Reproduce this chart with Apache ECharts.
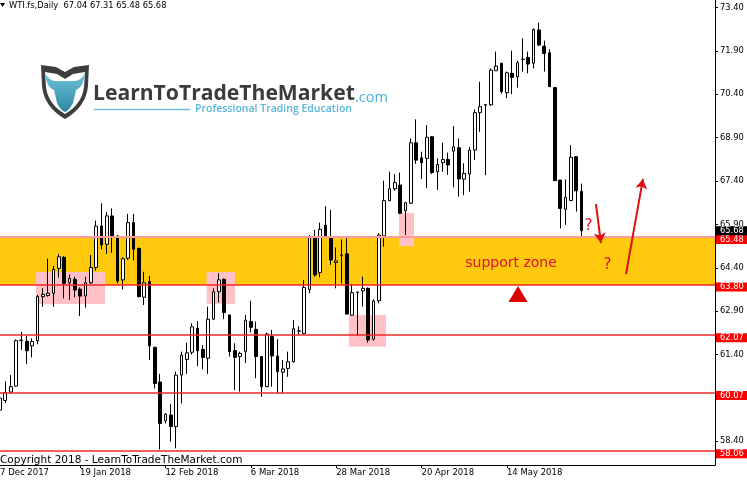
<!DOCTYPE html>
<html><head><meta charset="utf-8">
<script src="https://cdn.jsdelivr.net/npm/echarts@6/dist/echarts.min.js"></script>
<style>html,body{margin:0;padding:0;background:#fff}#c{width:747px;height:486px}</style>
</head><body><div id="c"></div>
<script>
// ---- data ----
const openP  = [59.48,59.81,60.10,60.31,61.88,61.86,61.70,61.87,63.40,63.44,63.52,64.38,64.76,63.88,64.00,63.66,63.42,63.88,64.41,65.84,65.21,66.19,65.50,63.98,64.73,65.97,65.07,63.38,63.92,61.65,60.45,59.11,59.31,58.91,60.69,61.23,61.48,62.31,61.58,61.27,62.62,63.57,64.00,62.77,61.54,61.33,61.50,62.54,62.27,61.33,60.29,62.02,61.35,60.79,60.92,61.15,62.22,62.13,63.65,65.47,64.23,65.87,65.47,64.58,64.83,64.88,62.76,63.55,63.60,63.69,61.93,63.26,65.50,66.72,67.13,67.26,66.37,66.63,68.72,68.20,68.18,68.93,67.72,68.03,68.14,68.43,68.55,67.46,67.64,68.47,69.76,70.02,70.03,71.21,71.47,70.45,71.12,71.00,71.60,71.67,71.47,72.62,72.06,71.83,70.63,67.43,66.42,66.72,68.24,67.04];
const closeP = [59.89,60.08,60.29,61.88,61.90,61.53,61.85,63.41,63.48,63.52,64.34,64.78,63.86,64.03,63.63,63.42,63.88,64.41,65.84,65.19,66.19,65.47,63.94,64.71,65.96,65.04,63.40,63.88,61.70,60.40,59.02,59.34,58.91,60.69,61.38,61.46,62.36,61.53,61.30,62.62,63.57,63.98,62.85,61.50,61.30,61.44,62.59,62.34,61.33,60.29,62.11,61.35,60.81,60.90,61.15,62.29,62.21,63.72,65.47,64.15,65.73,65.47,64.67,64.64,64.84,62.80,63.54,63.56,63.69,61.90,63.25,65.53,66.72,67.13,67.34,66.28,66.65,68.72,68.12,68.03,68.91,67.69,67.97,68.14,67.95,68.58,67.47,67.66,68.47,69.76,69.97,70.04,71.23,71.37,70.49,71.14,70.98,71.49,71.61,71.44,72.64,72.10,71.81,70.66,67.41,66.45,66.83,68.22,67.06,65.68];
const lowP   = [59.37,59.73,60.06,60.29,61.56,61.07,61.30,61.76,63.05,63.40,63.05,64.06,63.34,63.29,63.38,62.73,63.02,63.84,64.30,65.04,64.88,64.92,63.86,63.65,64.67,64.65,63.38,63.11,61.21,60.23,58.12,59.02,58.39,58.16,59.71,60.73,61.40,61.00,60.89,60.73,62.59,63.20,62.62,61.33,60.17,60.12,61.10,62.16,60.58,59.94,60.27,60.29,60.06,60.06,60.63,61.12,62.07,62.11,63.52,64.09,64.07,65.45,64.50,63.69,63.86,62.78,62.74,62.04,63.06,61.81,61.88,63.17,65.13,66.70,67.06,66.26,65.53,66.60,67.99,67.46,67.15,67.64,67.09,67.72,67.61,67.18,66.86,66.91,67.03,68.12,69.10,67.60,69.99,71.21,70.41,70.26,70.40,70.63,71.18,71.12,71.29,72.06,71.18,70.66,67.41,65.76,65.88,66.72,66.34,65.48];
const highP  = [59.94,60.47,60.69,61.92,62.18,62.04,61.96,63.46,63.69,64.72,64.46,64.88,64.80,64.17,64.09,63.72,64.09,64.84,66.03,66.63,66.32,66.45,65.52,64.76,66.26,66.26,65.09,64.26,64.12,61.67,60.73,59.37,59.69,60.81,61.50,61.81,62.48,62.55,61.73,63.05,63.69,64.21,64.03,62.77,61.79,61.50,62.77,63.26,62.54,61.35,62.16,62.25,61.93,61.21,61.50,62.59,62.38,63.98,65.53,65.71,65.96,66.53,66.40,65.10,65.38,65.42,63.84,63.57,64.09,63.72,63.31,65.59,67.41,67.72,67.64,67.69,66.68,68.87,69.53,68.41,69.33,68.95,68.18,68.72,68.38,69.30,68.87,68.01,68.58,69.87,70.83,70.06,71.29,71.87,71.47,71.18,71.90,71.56,72.33,71.87,72.67,72.87,72.25,71.95,70.65,67.43,67.45,68.64,68.26,67.31];
const yTicks = [58.40,59.90,61.40,62.90,64.40,65.90,67.40,68.90,70.40,71.90,73.40];
const xTickLabels = ['27 Dec 2017','19 Jan 2018','12 Feb 2018','6 Mar 2018','28 Mar 2018','20 Apr 2018','14 May 2018'];
const zoneLevels = [63.80, 65.48];
const lineLevels = [62.07, 60.07, 58.06];
// highlight boxes: [fromIndex, toIndex, lowPrice, highPrice]
const boxes = [[7.75,20.68,63.15,64.25],[39.74,45.04,63.15,64.25],[66.4,73.34,61.67,62.77],[75.78,78.59,65.15,66.29]];
// annotations in data units [index, price]
const arrowDown = [[112.69,66.60],[113.63,65.255]];
const arrowUp = [[118.32,64.18],[121.50,67.47]];
const questionMarks = [[111.29,65.83],[114.85,64.48]];
const zoneText = [96.77,64.55];
const triangleMark = [98.08,63.49];

// ---- categories: trading days starting 27 Dec 2017 ----
const MONTHS=['Jan','Feb','Mar','Apr','May','Jun','Jul','Aug','Sep','Oct','Nov','Dec'];
const holidays=['2018-01-01','2018-03-30'];
const NCAT=136;
const categories=[];
let d=new Date(Date.UTC(2017,11,27));
while(categories.length<NCAT){
  const wd=d.getUTCDay(), iso=d.toISOString().slice(0,10);
  if(wd!==0&&wd!==6&&!holidays.includes(iso)) categories.push(d.getUTCDate()+' '+MONTHS[d.getUTCMonth()]+' '+d.getUTCFullYear());
  d=new Date(d.getTime()+86400000);
}
const candles=['-'];
for(let i=0;i<openP.length;i++) candles.push([openP[i],closeP[i],lowP[i],highP[i]]);
const last=openP.length-1;
const lastPrice=closeP[last];

function fitFont(text,weight,family,target){
  const ctx=document.createElement('canvas').getContext('2d');
  ctx.font=weight+' 100px '+family;
  return 100*target/ctx.measureText(text).width;
}
const FONT='"DejaVu Sans", Tahoma, sans-serif';
const logoFont='"Open Sans", Lato, sans-serif';
const fs1=fitFont('LearnToTradeTheMarket','bold',logoFont,262);
const fs2=fitFont('Professional Trading Education','600',logoFont,157);
const fs3=fitFont('.com','normal',logoFont,33);

echarts.graphic.registerShape('shieldOuter',echarts.graphic.extendPath('M41,65 L56,67 L65,72 L74,67 L89,65 L88,86 Q86,107 65,119 Q44,107 42,86 Z',{}));
echarts.graphic.registerShape('shieldInner',echarts.graphic.extendPath('M45,72 L57,74 L65,79 L73,74 L85,72 L84,87 Q82,104 65,114 Q48,104 46,87 Z',{}));
echarts.graphic.registerShape('bullHead',echarts.graphic.extendPath('M45,73 Q50,82 57,81 L73,81 Q80,82 85,73 Q84,87 76,90 L73,103 Q69,111 65,112 Q61,111 57,103 L54,90 Q46,87 45,73 Z',{}));

const chart=echarts.init(document.getElementById('c'),null,{renderer:'canvas'});
const showLbl=(idx,val)=>xTickLabels.includes(val);
const priceLabel=(bg,off)=>({show:true,position:'end',distance:1,formatter:p=>Number(p.value).toFixed(2),
  backgroundColor:bg,color:'#fff',fontFamily:FONT,fontSize:8.3,lineHeight:9,padding:[0,10,0,4],offset:[0,off]});
const RED='#f02828';

chart.setOption({
  animation:false,
  backgroundColor:'#fff',
  grid:{left:-5.336,right:32,top:0,bottom:21,containLabel:false,outerBoundsMode:'none'},
  xAxis:[
    {type:'category',data:categories,boundaryGap:false,
     axisLine:{show:true,onZero:false,lineStyle:{color:'#000',width:1}},
     axisTick:{show:true,interval:showLbl,length:3,lineStyle:{color:'#000'}},
     axisLabel:{show:true,interval:showLbl,align:'left',margin:3,fontFamily:FONT,fontSize:8.5,color:'#000'},
     splitLine:{show:false}},
    {type:'value',min:0,max:NCAT-1,show:false}
  ],
  yAxis:{type:'value',position:'right',min:57.582,max:73.655,scale:true,
    axisLine:{show:true,onZero:false,lineStyle:{color:'#000',width:1}},
    axisTick:{show:true,length:3,customValues:yTicks,lineStyle:{color:'#000'}},
    axisLabel:{show:true,customValues:yTicks,formatter:v=>Number(v).toFixed(2),margin:5,fontFamily:FONT,fontSize:8.3,color:'#000'},
    splitLine:{show:false}},
  series:[
    {type:'line',xAxisIndex:1,data:[],z:1,silent:true,clip:false,
     markArea:{silent:true,data:[
       [{yAxis:zoneLevels[0],itemStyle:{color:'#ffc90e'}},{yAxis:zoneLevels[1]}],
       ...boxes.map(b=>[{coord:[b[0],b[2]],itemStyle:{color:'#ffffff'}},{coord:[b[1],b[3]]}])
     ]}},
    {type:'candlestick',xAxisIndex:0,data:candles,z:2,barWidth:3.2,
     itemStyle:{color:'#ffffff',color0:'#000000',borderColor:'#000000',borderColor0:'#000000',borderWidth:1}},
    {type:'line',xAxisIndex:1,data:[],z:3,silent:true,clip:false,
     markArea:{silent:true,data:boxes.map(b=>[{coord:[b[0],b[2]],itemStyle:{color:'rgba(255,100,110,0.4)'}},{coord:[b[1],b[3]]}])}},
    {type:'line',xAxisIndex:1,data:[],z:4,silent:true,clip:false,color:RED,
     markLine:{silent:true,symbol:['none','none'],lineStyle:{color:RED,width:1.5,type:'solid'},data:[
       {yAxis:zoneLevels[1],lineStyle:{color:'#ff9a9a',width:2,type:'solid'},label:priceLabel('#ff0000',3)},
       {yAxis:zoneLevels[0],lineStyle:{color:RED,width:1.5,type:'solid'},label:priceLabel('#ff0000',2)},
       ...lineLevels.map(v=>({yAxis:v,lineStyle:{color:RED,width:1.5,type:'solid'},label:priceLabel('#ff0000',2.5)}))
     ]}},
    {type:'line',xAxisIndex:1,data:[],z:5,silent:true,clip:false,color:'#e01010',
     markLine:{silent:true,symbol:['none','arrow'],symbolSize:[9,10],lineStyle:{color:'#e01010',width:2,type:'solid'},data:[
       {yAxis:lastPrice,symbol:['none','none'],lineStyle:{color:'rgba(0,0,0,0)',width:0},label:priceLabel('#000000',0)},
       [{coord:arrowDown[0],lineStyle:{color:'#e01010',width:2,type:'solid'},label:{show:false}},{coord:arrowDown[1]}],
       [{coord:arrowUp[0],lineStyle:{color:'#e01010',width:2,type:'solid'},label:{show:false}},{coord:arrowUp[1]}]
     ]},
     markPoint:{silent:true,data:[
       ...questionMarks.map(q=>({coord:q,symbol:'circle',symbolSize:0,label:{show:true,position:'inside',formatter:'?',color:'#e01020',fontFamily:FONT,fontSize:15}})),
       {coord:zoneText,symbol:'circle',symbolSize:0,label:{show:true,position:'inside',formatter:'support zone',color:'#dc1432',fontFamily:FONT,fontSize:14}},
       {coord:triangleMark,symbol:'triangle',symbolSize:[19,16],itemStyle:{color:'#dd0000'},label:{show:false}}
     ]}}
  ],
  graphic:[
    {type:'polygon',shape:{points:[[0,3],[5,3],[2.5,7]]},style:{fill:'#000'},z:10},
    {type:'text',x:9,y:6,style:{text:'WTI.fs,Daily  '+[openP[last],highP[last],lowP[last],closeP[last]].map(v=>v.toFixed(2)).join(' '),font:'8.3px '+FONT,fill:'#000',verticalAlign:'middle'},z:10},
    {type:'text',x:0,y:460,style:{text:'Copyright 2018 - LearnToTradeTheMarket.com',font:'10.5px '+FONT,fill:'#000',verticalAlign:'middle'},z:10},
    // logo
    {type:'shieldOuter',shape:{},style:{fill:'#3d3d3d'},z:10},
    {type:'shieldInner',shape:{},style:{fill:'#fff'},z:10},
    {type:'bullHead',shape:{},style:{fill:new echarts.graphic.LinearGradient(0,0,0,1,[{offset:0,color:'#72c6da'},{offset:1,color:'#2b86a2'}])},z:10},
    {type:'text',x:93,y:94,style:{text:'LearnToTradeTheMarket',font:'bold '+fs1.toFixed(2)+'px '+logoFont,fill:'#3b3b3b',verticalAlign:'middle'},z:10},
    {type:'text',x:355,y:98,style:{text:'.com',font:'normal '+fs3.toFixed(2)+'px '+logoFont,fill:'#49aed6',verticalAlign:'middle'},z:10},
    {type:'line',shape:{x1:94,y1:109.5,x2:190,y2:109.5},style:{stroke:'#6cc0e0',lineWidth:1.5},z:10},
    {type:'text',x:195,y:109.5,style:{text:'Professional Trading Education',font:'600 '+fs2.toFixed(2)+'px '+logoFont,fill:'#55b5dc',verticalAlign:'middle'},z:10}
  ]
});
</script></body></html>
